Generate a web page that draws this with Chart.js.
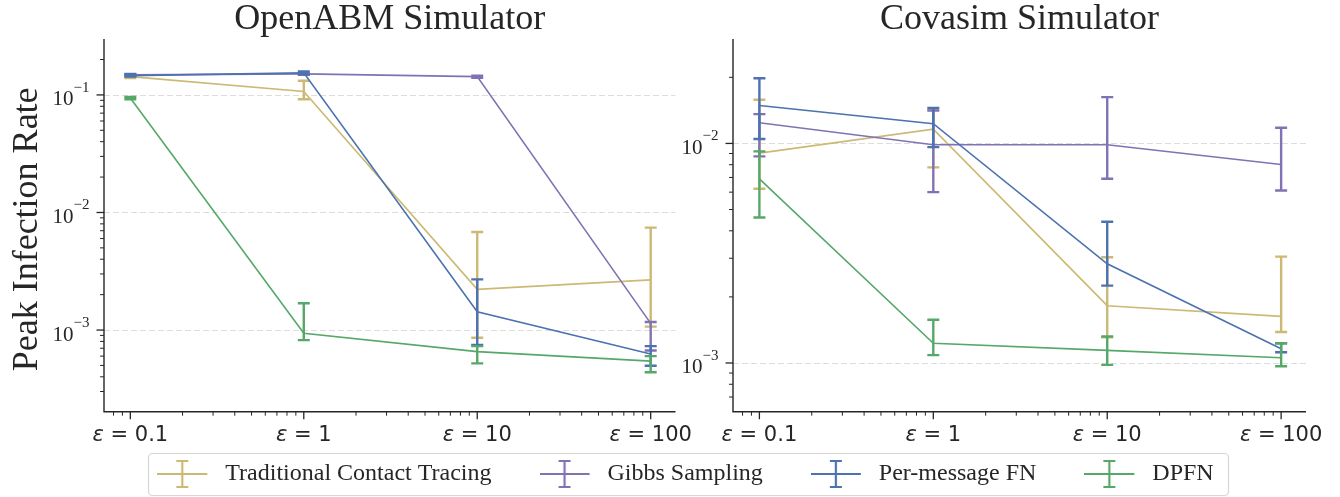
<!DOCTYPE html>
<html>
<head>
<meta charset="utf-8">
<script src="https://cdn.jsdelivr.net/npm/chart.js@4.4.1/dist/chart.umd.min.js"></script>
<style>
  html, body { margin: 0; padding: 0; background: #ffffff; }
  body { width: 1340px; height: 497px; position: relative; overflow: hidden; }
  canvas { position: absolute; display: block; }
  #chartA { left: 0px; top: 0px; }
  #chartB { left: 660px; top: 0px; }
  #chartL { left: 0px; top: 414px; }
</style>
</head>
<body>
<canvas id="chartA" width="705" height="450" style="width:705px;height:450px"></canvas>
<canvas id="chartB" width="680" height="450" style="width:680px;height:450px"></canvas>
<canvas id="chartL" width="1340" height="83" style="width:1340px;height:83px"></canvas>
<script>
// ---------------- data ----------------
const epsilonValues = [0.1, 1, 10, 100];
const epsilonLabels = ['0.1', '1', '10', '100'];
const seriesNames = ['Traditional Contact Tracing', 'Gibbs Sampling', 'Per-message FN', 'DPFN'];
const seriesColors = ['#ccb974', '#8172b3', '#4c72b0', '#55a868'];
const panelTitles = ['OpenABM Simulator', 'Covasim Simulator'];
const yAxisTitle = 'Peak Infection Rate';

// OpenABM simulator: mean, lower, upper
const openabmTCT      = [0.143, 0.107, 0.00222, 0.00267];
const openabmTCTLow   = [0.139, 0.092, 0.00086, 0.00107];
const openabmTCTHigh  = [0.147, 0.132, 0.00682, 0.00743];
const openabmGibbs     = [0.148, 0.151, 0.143, 0.00114];
const openabmGibbsLow  = [0.145, 0.148, 0.140, 0.00067];
const openabmGibbsHigh = [0.151, 0.154, 0.146, 0.00117];
const openabmPMFN     = [0.146, 0.154, 0.00143, 0.000625];
const openabmPMFNLow  = [0.143, 0.150, 0.000745, 0.000497];
const openabmPMFNHigh = [0.150, 0.158, 0.0027, 0.00073];
const openabmDPFN     = [0.094, 0.00094, 0.000655, 0.000544];
const openabmDPFNLow  = [0.092, 0.00082, 0.00052, 0.000437];
const openabmDPFNHigh = [0.096, 0.00169, 0.00073, 0.0006];

// Covasim simulator: mean, lower, upper
const covasimTCT      = [0.00903, 0.01162, 0.001824, 0.00163];
const covasimTCTLow   = [0.00622, 0.00778, 0.00131, 0.001384];
const covasimTCTHigh  = [0.0158, 0.01422, 0.00303, 0.00305];
const covasimGibbs     = [0.01242, 0.00986, 0.00986, 0.00802];
const covasimGibbsLow  = [0.00873, 0.0060, 0.0069, 0.0061];
const covasimGibbsHigh = [0.0136, 0.0141, 0.01626, 0.01178];
const covasimPMFN     = [0.01489, 0.0123, 0.00283, 0.00116];
const covasimPMFNLow  = [0.01047, 0.00962, 0.00225, 0.00112];
const covasimPMFNHigh = [0.0198, 0.0145, 0.0044, 0.00123];
const covasimDPFN     = [0.0069, 0.00123, 0.001142, 0.001057];
const covasimDPFNLow  = [0.0046, 0.001086, 0.00098, 0.000966];
const covasimDPFNHigh = [0.0092, 0.001575, 0.00132, 0.00123];

// ---------------- helpers ----------------
const INK = '#262626';
const SERIF = '"Liberation Serif", "Times New Roman", serif';
const SANS = '"DejaVu Sans", sans-serif';

function makeDataset(i, mean, low, high) {
  return {
    label: seriesNames[i],
    data: epsilonValues.map((e, j) => ({ x: e, y: mean[j] })),
    errLow: low,
    errHigh: high,
    borderColor: seriesColors[i],
    backgroundColor: seriesColors[i],
    borderWidth: 1.6,
    pointRadius: 0,
    pointHoverRadius: 0,
    tension: 0,
    fill: false,
    order: 4 - i
  };
}

function logTicks(min, max) {
  const out = [];
  for (let d = Math.floor(Math.log10(min)) - 1; d <= Math.ceil(Math.log10(max)); d++) {
    for (let m = 1; m <= 9; m++) {
      const v = m * Math.pow(10, d);
      if (v >= min * 1.0001 && v <= max / 1.0001) out.push({ v, major: m === 1, exp: d });
    }
  }
  return out;
}

const panelDecor = {
  id: 'panelDecor',
  beforeDatasetsDraw(chart) {
    const ctx = chart.ctx, a = chart.chartArea, ys = chart.scales.y;
    ctx.save();
    ctx.strokeStyle = '#dddddd';
    ctx.lineWidth = 1.2;
    ctx.setLineDash([6, 3]);
    logTicks(ys.min, ys.max).filter(t => t.major).forEach(t => {
      const y = Math.round(ys.getPixelForValue(t.v)) + 0.5;
      ctx.beginPath(); ctx.moveTo(a.left, y); ctx.lineTo(a.right, y); ctx.stroke();
    });
    ctx.restore();
  },
  afterDatasetDraw(chart, args) {
    const ds = chart.data.datasets[args.index];
    if (!ds.errLow) return;
    const ctx = chart.ctx, xs = chart.scales.x, ys = chart.scales.y;
    ctx.save();
    ctx.strokeStyle = ds.borderColor;
    ctx.lineWidth = 2.4;
    ds.data.forEach((p, j) => {
      const x = xs.getPixelForValue(p.x);
      const yl = ys.getPixelForValue(ds.errLow[j]);
      const yh = ys.getPixelForValue(ds.errHigh[j]);
      ctx.beginPath();
      ctx.moveTo(x, yl); ctx.lineTo(x, yh);
      ctx.moveTo(x - 6, yl); ctx.lineTo(x + 6, yl);
      ctx.moveTo(x - 6, yh); ctx.lineTo(x + 6, yh);
      ctx.stroke();
    });
    ctx.restore();
  },
  afterDraw(chart, args, opts) {
    const ctx = chart.ctx, a = chart.chartArea, xs = chart.scales.x, ys = chart.scales.y;
    ctx.save();
    ctx.strokeStyle = INK;
    ctx.fillStyle = INK;
    ctx.setLineDash([]);
    // spines
    ctx.lineWidth = 1.4;
    ctx.beginPath();
    ctx.moveTo(a.left, a.top); ctx.lineTo(a.left, a.bottom); ctx.lineTo(a.right, a.bottom);
    ctx.stroke();
    // y ticks
    logTicks(ys.min, ys.max).forEach(t => {
      const y = ys.getPixelForValue(t.v);
      ctx.lineWidth = t.major ? 1.3 : 1.0;
      ctx.beginPath(); ctx.moveTo(a.left, y); ctx.lineTo(a.left - (t.major ? 7.5 : 4), y); ctx.stroke();
      if (t.major) {
        const base = '10', sup = '\u2212' + Math.abs(t.exp);
        ctx.font = '21px ' + SERIF; const wb = ctx.measureText(base).width;
        ctx.font = '15px ' + SERIF; const wsup = ctx.measureText(sup).width;
        const right = a.left - 14.5;
        ctx.textAlign = 'left'; ctx.textBaseline = 'alphabetic';
        ctx.font = '21px ' + SERIF; ctx.fillText(base, right - wsup - wb, y + 10.5);
        ctx.font = '15px ' + SERIF; ctx.fillText(sup, right - wsup, y - 3);
      }
    });
    // x ticks
    logTicks(xs.min, xs.max).forEach(t => {
      const x = xs.getPixelForValue(t.v);
      ctx.lineWidth = t.major ? 1.3 : 1.0;
      ctx.beginPath(); ctx.moveTo(x, a.bottom); ctx.lineTo(x, a.bottom + (t.major ? 7.5 : 4)); ctx.stroke();
    });
    epsilonValues.forEach((e, j) => {
      const x = xs.getPixelForValue(e);
      const rest = ' = ' + epsilonLabels[j];
      ctx.font = 'italic 21px ' + SANS; const we = ctx.measureText('\u03b5').width;
      ctx.font = '21px ' + SANS; const wr = ctx.measureText(rest).width;
      const start = x - (we + wr) / 2;
      ctx.textAlign = 'left'; ctx.textBaseline = 'alphabetic';
      ctx.font = 'italic 21px ' + SANS; ctx.fillText('\u03b5', start, a.bottom + 29);
      ctx.font = '21px ' + SANS; ctx.fillText(rest, start + we, a.bottom + 29);
    });
    // y axis title
    if (opts && opts.yTitle) {
      ctx.save();
      ctx.translate(37, (a.top + a.bottom) / 2 + 4);
      ctx.rotate(-Math.PI / 2);
      ctx.font = '36px ' + SERIF;
      ctx.textAlign = 'center'; ctx.textBaseline = 'alphabetic';
      ctx.fillText(opts.yTitle, 0, 0);
      ctx.restore();
    }
    ctx.restore();
  }
};

function panelOptions(title, yMin, yMax, padding, yTitle) {
  return {
    responsive: false,
    animation: false,
    events: [],
    layout: { padding },
    scales: {
      x: { type: 'logarithmic', min: 0.0705, max: 139, display: false },
      y: { type: 'logarithmic', min: yMin, max: yMax, display: false }
    },
    plugins: {
      legend: { display: false },
      tooltip: { enabled: false },
      title: {
        display: true, text: title, color: INK,
        font: { family: SERIF, size: 36, weight: 'normal', lineHeight: 1 },
        padding: { top: 2, bottom: 1 }
      },
      panelDecor: { yTitle }
    }
  };
}

new Chart(document.getElementById('chartA'), {
  type: 'line',
  data: {
    datasets: [
      makeDataset(0, openabmTCT, openabmTCTLow, openabmTCTHigh),
      makeDataset(1, openabmGibbs, openabmGibbsLow, openabmGibbsHigh),
      makeDataset(2, openabmPMFN, openabmPMFNLow, openabmPMFNHigh),
      makeDataset(3, openabmDPFN, openabmDPFNLow, openabmDPFNHigh)
    ]
  },
  options: panelOptions(panelTitles[0], 2.02e-4, 0.299, { left: 104, right: 29.5, top: 0, bottom: 38.3 }, yAxisTitle),
  plugins: [panelDecor]
});

new Chart(document.getElementById('chartB'), {
  type: 'line',
  data: {
    datasets: [
      makeDataset(0, covasimTCT, covasimTCTLow, covasimTCTHigh),
      makeDataset(1, covasimGibbs, covasimGibbsLow, covasimGibbsHigh),
      makeDataset(2, covasimPMFN, covasimPMFNLow, covasimPMFNHigh),
      makeDataset(3, covasimDPFN, covasimDPFNLow, covasimDPFNHigh)
    ]
  },
  options: panelOptions(panelTitles[1], 6.03e-4, 0.0299, { left: 73, right: 34, top: 0, bottom: 38.3 }, null),
  plugins: [panelDecor]
});

// ---------------- legend ----------------
function errorIcon(color) {
  const c = document.createElement('canvas');
  c.width = 56; c.height = 30;
  const g = c.getContext('2d');
  g.strokeStyle = color; g.lineWidth = 2.2;
  g.beginPath();
  g.moveTo(0, 15); g.lineTo(50, 15);
  g.moveTo(25, 2); g.lineTo(25, 28);
  g.moveTo(19, 2); g.lineTo(31, 2);
  g.moveTo(19, 28); g.lineTo(31, 28);
  g.stroke();
  return c;
}

const legendFrame = {
  id: 'legendFrame',
  afterDraw(chart) {
    const boxes = chart.legend && chart.legend.legendHitBoxes;
    if (!boxes || !boxes.length) return;
    const l = Math.min(...boxes.map(b => b.left)) - 9;
    const r = Math.max(...boxes.map(b => b.left + b.width)) + 15;
    const t = Math.min(...boxes.map(b => b.top)) - 9;
    const bt = Math.max(...boxes.map(b => b.top + b.height)) + 9;
    const ctx = chart.ctx;
    ctx.save();
    ctx.strokeStyle = '#d6d6d6';
    ctx.lineWidth = 1.2;
    ctx.beginPath();
    ctx.roundRect(Math.round(l) + 0.5, Math.round(t) + 0.5, Math.round(r - l), Math.round(bt - t), 4);
    ctx.stroke();
    ctx.restore();
  }
};

new Chart(document.getElementById('chartL'), {
  type: 'line',
  data: {
    datasets: seriesNames.map((n, i) => ({ label: n, data: [], borderColor: seriesColors[i] }))
  },
  options: {
    responsive: false,
    animation: false,
    events: [],
    layout: { padding: { left: 31, right: 0, top: 0, bottom: 0 } },
    scales: { x: { display: false }, y: { display: false } },
    plugins: {
      tooltip: { enabled: false },
      legend: {
        display: true,
        position: 'top',
        maxHeight: 300,
        labels: {
          usePointStyle: true,
          pointStyleWidth: 56,
          boxHeight: 24,
          padding: 48,
          color: INK,
          font: { family: SERIF, size: 24, weight: 'normal' },
          generateLabels(chart) {
            return chart.data.datasets.map((ds, i) => ({
              text: ds.label,
              pointStyle: errorIcon(ds.borderColor),
              fillStyle: ds.borderColor,
              strokeStyle: ds.borderColor,
              lineWidth: 0,
              hidden: false,
              datasetIndex: i,
              fontColor: INK
            }));
          }
        }
      }
    }
  },
  plugins: [legendFrame]
});
</script>
</body>
</html>
